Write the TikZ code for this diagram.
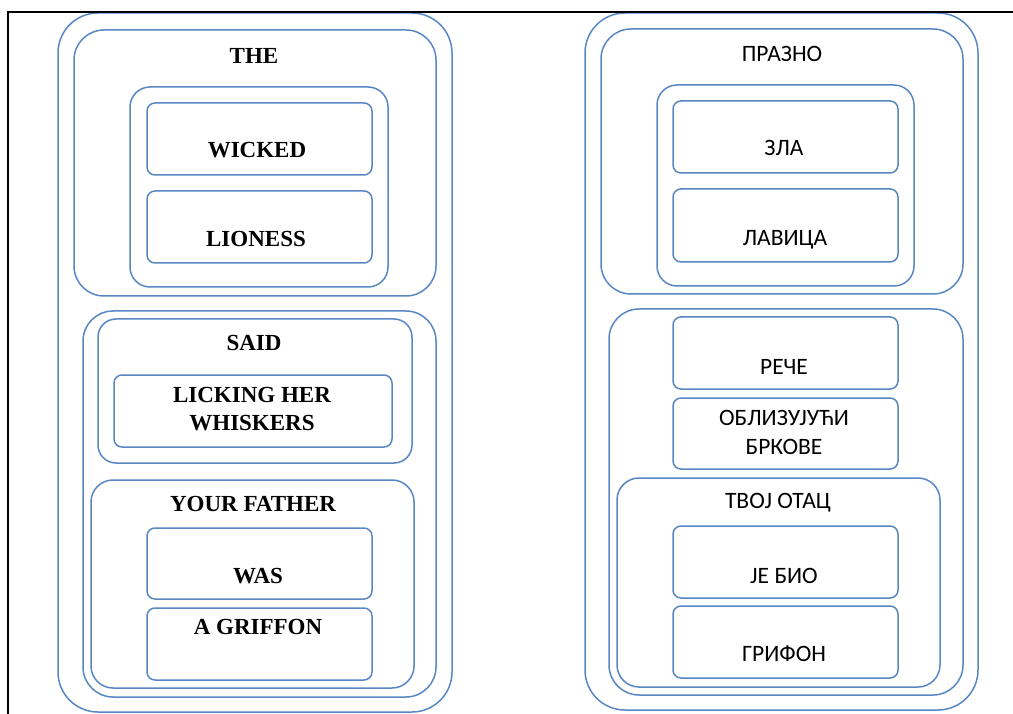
\documentclass[tikz,border=0pt]{standalone}
\usepackage{fontspec}
\newfontfamily\lftfont{Liberation Serif}
\newfontfamily\rgtfont{Carlito}
\definecolor{boxblue}{RGB}{88,135,196}
\tikzset{
  box/.style={draw=boxblue,line width=1.5pt,inner sep=0pt,outer sep=0pt,fill=none},
  ltxt/.style={anchor=base,inner sep=0pt,align=center,font=\lftfont\bfseries\fontsize{23}{28}\selectfont},
  rtxt/.style={anchor=base,inner sep=0pt,align=center,font=\rgtfont\fontsize{23.5}{29}\selectfont},
  frame/.style={draw=black,line width=2pt}
}
\newcommand\bx[6]{\node[box,rounded corners=#6pt,minimum width={(#4-#2)*1pt},minimum height={(#5-#3)*1pt}] (#1) at ({(#2+#4)/2},{(#3+#5)/2}) {};}
\begin{document}
\begin{tikzpicture}[x=1pt,y=-1pt]
\useasboundingbox (0,0) rectangle (1013,714);
% left panel
\bx{lout}{58}{13}{452}{712}{40}
\bx{lthe}{74}{30}{436}{296}{30}
\bx{lgrp}{130}{87}{388}{287}{20}
\bx{lwick}{147}{103}{372}{175}{8}
\bx{llion}{147}{191}{372}{263}{8}
\bx{llow}{83}{311}{436}{697}{30}
\bx{lsaid}{98}{319}{412}{463}{18}
\bx{llick}{114}{375}{392}{447}{8}
\bx{lyf}{91}{480}{414}{688}{22}
\bx{lwas}{147}{528}{372}{599}{8}
\bx{lgrif}{147}{608}{372}{680}{8}
\node[ltxt] (tthe) at (254,64) {THE};
\node[ltxt] (twick) at (257,158) {WICKED};
\node[ltxt] (tlion) at (256,247) {LIONESS};
\node[ltxt] (tsaid) at (254,351) {SAID};
\node[ltxt] (tlick) at (252,430) {LICKING HER\\WHISKERS};
\node[ltxt] (tyf) at (253,511) {YOUR FATHER};
\node[ltxt] (twas) at (258,583) {WAS};
\node[ltxt] (tgrif) at (258,634) {A GRIFFON};
% right panel
\bx{rout}{585}{13}{978}{710}{40}
\bx{rpr}{601}{29}{963}{294}{30}
\bx{rgrp}{657}{85}{914}{286}{20}
\bx{rzla}{673}{101}{898}{173}{8}
\bx{rlav}{673}{189}{898}{262}{8}
\bx{rlow}{609}{309}{963}{695}{30}
\bx{rrec}{673}{317}{898}{389}{8}
\bx{robl}{673}{398}{898}{469}{8}
\bx{rtv}{617}{478}{940}{687}{22}
\bx{rje}{673}{526}{898}{598}{8}
\bx{rgri}{673}{606}{898}{678}{8}
\node[rtxt] (tpr) at (782,62) {ПРАЗНО};
\node[rtxt] (tzla) at (784,156) {ЗЛА};
\node[rtxt] (tlav) at (785,246) {ЛАВИЦА};
\node[rtxt] (trec) at (784,374) {РЕЧЕ};
\node[rtxt] (tobl) at (784,454) {ОБЛИЗУЈУЋИ\\БРКОВЕ};
\node[rtxt] (ttv) at (778,508) {ТВОЈ ОТАЦ};
\node[rtxt] (tje) at (784,583) {ЈЕ БИО};
\node[rtxt] (tgri) at (784,661) {ГРИФОН};
% frame (top and left edges)
\coordinate (ftr) at (1013,12);
\coordinate (ftl) at (8,12);
\coordinate (fbl) at (8,714);
\draw[frame] (ftr) -- (ftl) -- (fbl);
\end{tikzpicture}
\end{document}
